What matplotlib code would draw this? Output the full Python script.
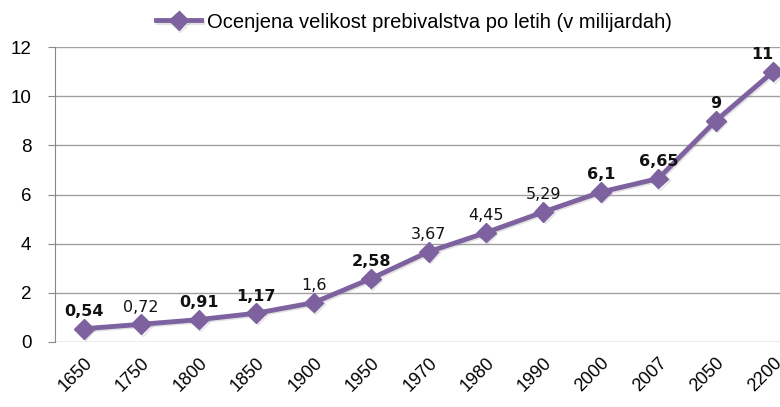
import matplotlib.pyplot as plt
import matplotlib.patheffects as pe

years = ["1650", "1750", "1800", "1850", "1900", "1950", "1970", "1980",
         "1990", "2000", "2007", "2050", "2200"]
population = [0.54, 0.72, 0.91, 1.17, 1.6, 2.58, 3.67, 4.45, 5.29, 6.1, 6.65, 9, 11]
label_text = ["0,54", "0,72", "0,91", "1,17", "1,6", "2,58", "3,67", "4,45",
              "5,29", "6,1", "6,65", "9", "11"]
label_bold = [True, False, True, True, False, True, False, False,
              False, True, True, True, True]
series_name = "Ocenjena velikost prebivalstva po letih (v milijardah)"

axis_font = "Liberation Sans"
purple = "#7E62A0"

fig = plt.figure(figsize=(7.8, 4.07), dpi=100)
ax = fig.add_axes([55 / 780, 1 - 342 / 407, (802 - 55) / 780, (342 - 47) / 407])

x = list(range(len(years)))
line, = ax.plot(x, population, color=purple, lw=3.5, marker="D", ms=10,
                markeredgecolor=purple, label=series_name, zorder=3,
                path_effects=[pe.SimpleLineShadow(offset=(1, -1), shadow_color="#888888", alpha=0.25),
                              pe.Normal()])

for i, (xi, v, t, b) in enumerate(zip(x, population, label_text, label_bold)):
    dx = -8 if i == len(years) - 1 else 0
    ax.annotate(t, (xi, v), xytext=(dx, 7), textcoords="offset points",
                ha="center", va="bottom", fontsize=11.5, family="DejaVu Sans",
                fontweight="bold" if b else "normal", color="#111111")

ax.set_xlim(-0.5, len(years) - 0.5)
ax.set_ylim(0, 12)
ax.set_yticks(range(0, 13, 2))
ax.set_xticks(x)
ax.set_xticklabels(years, rotation=45, ha="right", rotation_mode="anchor",
                   fontsize=13, family=axis_font)
for lbl in ax.get_yticklabels():
    lbl.set_fontsize(13.5)
    lbl.set_family(axis_font)
ax.tick_params(axis="x", length=0, pad=9)
ax.tick_params(axis="y", length=5, color="#888888", pad=12)
ax.grid(axis="y", color="#A0A0A0", lw=1)
ax.set_axisbelow(True)
for s in ["top", "right", "bottom"]:
    ax.spines[s].set_visible(False)
ax.spines["left"].set_color("#888888")

fig.legend(handles=[line], loc="center", bbox_to_anchor=(414 / 780, 1 - 22 / 407),
           frameon=False, prop={"family": axis_font, "size": 14.5},
           handlelength=2.2, handletextpad=0.3)

fig.savefig("out.png", dpi=100)
